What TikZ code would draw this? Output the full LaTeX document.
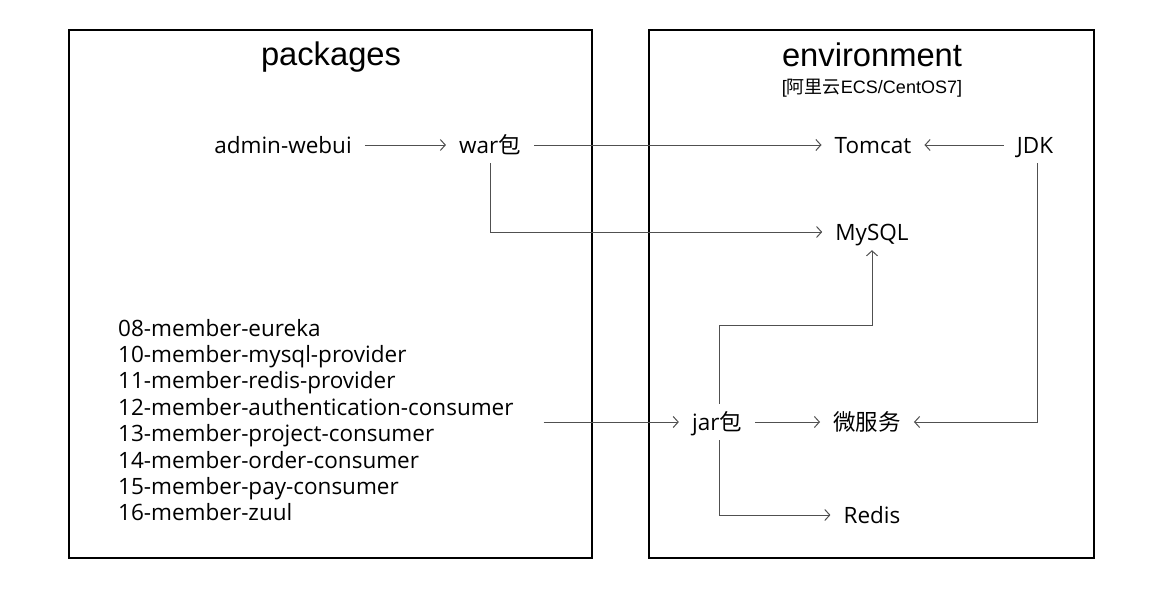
\documentclass[tikz,border=0pt]{standalone}
\usepackage{fontspec}
\setmainfont{Open Sans}
\newfontfamily\cjk{Noto Sans CJK SC}
\newfontfamily\titlefont{Liberation Sans}
\usetikzlibrary{arrows.meta}
\definecolor{linegray}{HTML}{505050}
\begin{document}
\begin{tikzpicture}[x=1pt,y=-1pt,
  panel/.style={draw=black,line width=2pt},
  lbl/.style={font=\fontsize{22.5}{26}\selectfont,inner xsep=13pt,inner ysep=0pt,text height=21pt,text depth=5pt,minimum height=36pt},
  conn/.style={draw=linegray,line width=1pt,-{Straight Barb[length=5pt,width=11pt,line width=1pt]}},
  title/.style={font=\titlefont\fontsize{32.7}{36}\selectfont,inner sep=0pt},
  subtitle/.style={font=\titlefont\fontsize{18}{20}\selectfont,inner sep=0pt}
]
\useasboundingbox (0,0) rectangle (1169,594);
\fill[white] (0,0) rectangle (1169,594);

% panels
\draw[panel] (69,30) rectangle (592,558);
\draw[panel] (649,30) rectangle (1094,558);

% titles
\node[title] (tpk) at (331,57) {packages};
\node[title] (tenv) at (872,55) {environment};
\node[subtitle] (tsub) at (872,88) {[{\cjk 阿里云}ECS/CentOS7]};

% nodes
\node[lbl] (admin) at (283,145) {admin-webui};
\node[lbl] (war) at (490,145) {war{\cjk 包}};
\node[lbl] (tomcat) at (873,145) {Tomcat};
\node[lbl] (jdk) at (1035,145) {JDK};
\node[lbl] (mysql) at (872,232) {MySQL};
\node[lbl] (jar) at (717,422) {jar{\cjk 包}};
\node[lbl] (micro) at (867,422) {\cjk 微服务};
\node[lbl] (redis) at (872,515) {Redis};
\node[font=\fontsize{22.5}{26.4}\selectfont,inner xsep=30pt,inner ysep=0pt,anchor=west,align=left] (list) at (88,420) {08-member-eureka\\
10-member-mysql-provider\\
11-member-redis-provider\\
12-member-authentication-consumer\\
13-member-project-consumer\\
14-member-order-consumer\\
15-member-pay-consumer\\
16-member-zuul};

\coordinate (jdkx) at (1037,163);
\coordinate (jbend) at (719,325);

% connectors
\draw[conn] (admin) -- (war);
\draw[conn] (war) -- (tomcat);
\draw[conn] (jdk) -- (tomcat);
\draw[conn] (war.south) |- (mysql.west);
\draw[conn] (jdkx) |- (micro.east);
\draw[conn] (list.east |- jar.west) -- (jar.west);
\draw[conn] (jar) -- (micro);
\draw[conn] (jar.north -| jbend) |- (jbend) -| (mysql.south);
\draw[conn] (jar.south -| jbend) |- (redis.west);
\end{tikzpicture}
\end{document}
